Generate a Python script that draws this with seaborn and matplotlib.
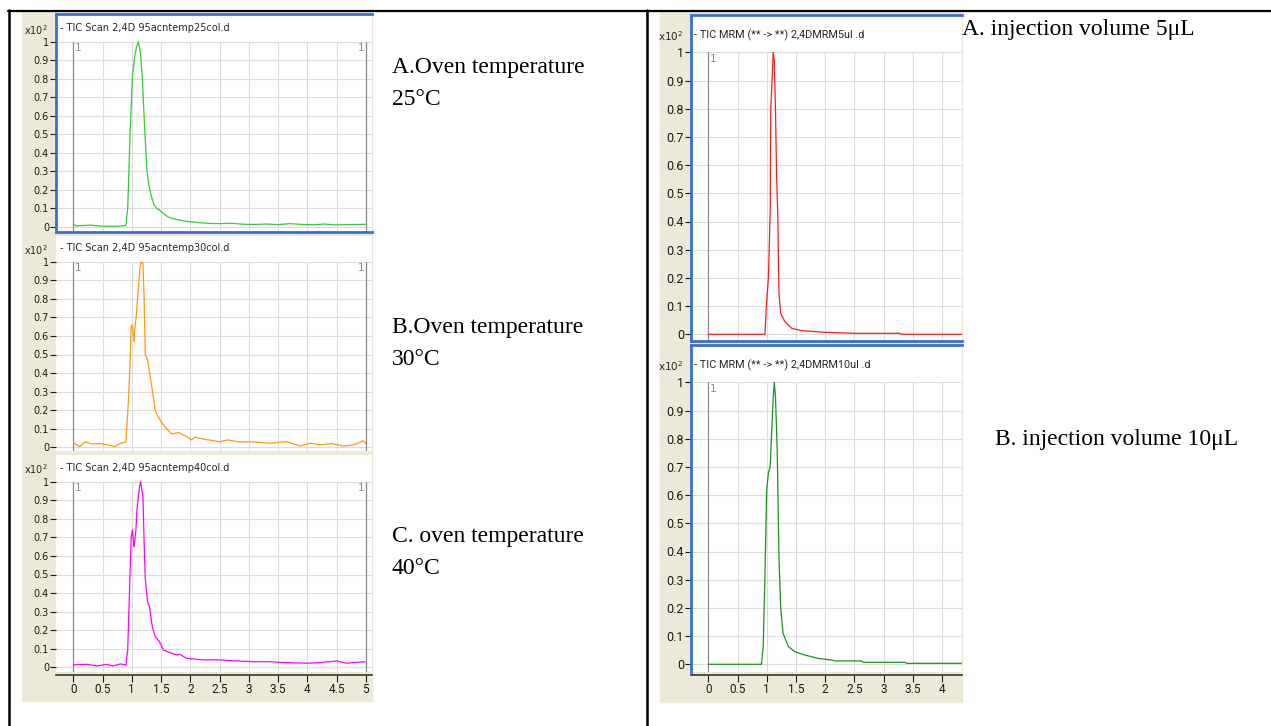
import numpy as np
import matplotlib
matplotlib.use("Agg")
import matplotlib.pyplot as plt
from matplotlib.lines import Line2D
from matplotlib.patches import Rectangle
import seaborn as sns

# ---- data (time in min, intensity x10^2) ----
t_25 = [0, 0.05, 0.15, 0.3, 0.45, 0.55, 0.7, 0.85, 0.9, 0.93, 0.95, 0.97, 1.01, 1.05, 1.08,
        1.11, 1.13, 1.15, 1.18, 1.21, 1.23, 1.26, 1.29, 1.33, 1.38, 1.43, 1.5, 1.57, 1.65,
        1.75, 1.85, 1.95, 2.1, 2.3, 2.5, 2.7, 2.9, 3.1, 3.3, 3.5, 3.7, 3.9, 4.1, 4.3, 4.5,
        4.7, 4.9, 5.0]
i_25 = [0.016, 0.006, 0.008, 0.01, 0.005, 0.004, 0.004, 0.006, 0.01, 0.1, 0.3, 0.5, 0.81,
        0.92, 0.97, 1.0, 0.97, 0.93, 0.8, 0.6, 0.47, 0.3, 0.23, 0.17, 0.12, 0.1, 0.085,
        0.065, 0.05, 0.042, 0.035, 0.03, 0.025, 0.02, 0.018, 0.02, 0.015, 0.014, 0.016,
        0.013, 0.018, 0.014, 0.012, 0.016, 0.011, 0.013, 0.014, 0.015]

t_30 = [0, 0.03, 0.11, 0.2, 0.31, 0.46, 0.6, 0.71, 0.8, 0.9, 0.94, 0.97, 0.99, 1.01, 1.04,
        1.05, 1.08, 1.11, 1.14, 1.16, 1.19, 1.21, 1.23, 1.27, 1.34, 1.4, 1.44, 1.54, 1.68,
        1.8, 1.94, 2.02, 2.08, 2.25, 2.5, 2.65, 2.8, 3.08, 3.36, 3.65, 3.88, 4.05, 4.22,
        4.42, 4.62, 4.79, 4.96, 5.0]
i_30 = [0.03, 0.018, 0.004, 0.03, 0.018, 0.02, 0.013, 0.004, 0.02, 0.03, 0.24, 0.45, 0.65,
        0.66, 0.57, 0.63, 0.72, 0.85, 0.97, 1.0, 0.99, 0.81, 0.5, 0.47, 0.33, 0.2, 0.17,
        0.12, 0.072, 0.079, 0.057, 0.04, 0.054, 0.043, 0.03, 0.04, 0.03, 0.029, 0.022,
        0.03, 0.007, 0.022, 0.013, 0.02, 0.007, 0.013, 0.036, 0.02]

t_40 = [0, 0.23, 0.4, 0.57, 0.68, 0.8, 0.9, 0.93, 0.97, 0.99, 1.01, 1.03, 1.04, 1.07, 1.09,
        1.13, 1.15, 1.19, 1.21, 1.23, 1.27, 1.3, 1.35, 1.4, 1.47, 1.54, 1.65, 1.77, 1.82,
        1.94, 2.22, 2.5, 2.79, 3.08, 3.36, 3.65, 3.99, 4.22, 4.5, 4.67, 4.85, 4.99]
i_40 = [0.013, 0.016, 0.007, 0.016, 0.007, 0.018, 0.013, 0.093, 0.506, 0.7, 0.74, 0.68,
        0.65, 0.74, 0.86, 0.97, 1.0, 0.92, 0.68, 0.48, 0.35, 0.33, 0.22, 0.165, 0.14,
        0.093, 0.079, 0.066, 0.07, 0.048, 0.04, 0.04, 0.034, 0.03, 0.03, 0.025, 0.022,
        0.025, 0.034, 0.022, 0.027, 0.03]

t_5ul = [0, 0.97, 0.99, 1.03, 1.06, 1.07, 1.1, 1.11, 1.13, 1.15, 1.17, 1.19, 1.21, 1.24,
         1.31, 1.43, 1.6, 2.0, 2.51, 3.28, 3.31, 4.4]
i_5ul = [0, 0, 0.086, 0.204, 0.44, 0.8, 0.94, 1.0, 0.97, 0.8, 0.56, 0.42, 0.145, 0.074,
         0.045, 0.021, 0.013, 0.007, 0.0035, 0.0035, 0, 0]

t_10ul = [0, 0.91, 0.94, 0.97, 1.0, 1.03, 1.06, 1.08, 1.11, 1.13, 1.15, 1.18, 1.21, 1.24,
          1.28, 1.37, 1.48, 1.65, 1.88, 2.11, 2.17, 2.62, 2.65, 3.37, 3.39, 4.4]
i_10ul = [0, 0, 0.063, 0.32, 0.62, 0.68, 0.7, 0.8, 0.94, 1.0, 0.95, 0.76, 0.38, 0.2, 0.11,
          0.063, 0.045, 0.033, 0.021, 0.015, 0.012, 0.012, 0.007, 0.007, 0.0035, 0.0035]

left_titles = ["- TIC Scan 2,4D 95acntemp25col.d",
               "- TIC Scan 2,4D 95acntemp30col.d",
               "- TIC Scan 2,4D 95acntemp40col.d"]
right_titles = ["- TIC MRM (** -> **) 2,4DMRM5ul .d",
                "- TIC MRM (** -> **) 2,4DMRM10ul .d"]
left_captions = [("A.Oven temperature", "25°C"),
                 ("B.Oven temperature", "30°C"),
                 ("C. oven temperature", "40°C")]
right_captions = ["A. injection volume 5μL", "B. injection volume 10μL"]

# ---- layout (pixels of the 1271x726 picture) ----
W, H = 1271, 726
BEIGE = "#ece9d8"
BLUE = "#3a6fcc"
GRID = "#dcdcdc"

sns.set_style("white")
plt.rcParams['font.family'] = ['DejaVu Sans']

left_font = {"family": "DejaVu Sans", "size": 7, "title": 7}
right_font = {"family": "Roboto", "size": 9, "title": 7.8}
xtick_font = {"family": "Roboto", "size": 8.5}

fig = plt.figure(figsize=(W / 100, H / 100), dpi=100)


def fbox(x0, y0, x1, y1):
    return [x0 / W, 1 - y1 / H, (x1 - x0) / W, (y1 - y0) / H]


def fline(x0, y0, x1, y1, **kw):
    fig.add_artist(Line2D([x0 / W, x1 / W], [1 - y0 / H, 1 - y1 / H],
                          transform=fig.transFigure, **kw))


# table frame
fline(8, 10.5, W, 10.5, color="black", lw=1.6)
fline(8.5, 10, 8.5, H, color="black", lw=1.8)
fline(647, 10, 647, H, color="black", lw=1.8)

# screenshot backgrounds
for x0, y0, x1, y1 in [(22, 12, 372, 701), (660, 12, 962, 702)]:
    fig.add_artist(Rectangle((x0 / W, 1 - y1 / H), (x1 - x0) / W, (y1 - y0) / H,
                             transform=fig.transFigure, color=BEIGE, zorder=0))


def panel(box, xcal, ycal, t, v, color, title, title_dy, xmax, show_x, blue,
          font, right_marker):
    x0, y0, x1, y1 = box
    ax = fig.add_axes(fbox(*box))
    ax.set_facecolor("white")
    xlim = ((x0 - xcal[0]) / xcal[1], (x1 - xcal[0]) / xcal[1])
    ylim = ((ycal[0] - y1) / ycal[1], (ycal[0] - y0) / ycal[1])

    # grid
    for yy in np.arange(0, 1.01, 0.1):
        ax.axhline(yy, color=GRID, lw=0.8, zorder=0)
    for xx in np.arange(0.5, xmax + 0.6, 0.5):
        ax.plot([xx, xx], [-0.03, 1.0], color=GRID, lw=0.8, zorder=0)
    ax.plot([0, 0], [-0.03, 1.0], color="#8a8a8a", lw=0.9, zorder=1)
    ax.text(0.03, 0.995, "1", color="#8a8a8a", fontsize=7.5, ha="left", va="top")
    if right_marker:
        ax.plot([5, 5], [-0.03, 1.0], color="#8a8a8a", lw=0.9, zorder=1)
        ax.text(4.97, 0.995, "1", color="#8a8a8a", fontsize=7.5, ha="right", va="top")

    sns.lineplot(x=t, y=v, ax=ax, color=color, lw=0.9, estimator=None, zorder=3)

    yt = np.arange(0, 1.01, 0.1)
    ax.set_yticks(yt)
    ax.set_yticklabels([f"{y:g}" for y in yt])
    ax.tick_params(axis="y", left=True, direction="out", length=4, width=0.8, pad=1,
                   colors="#1a1a1a", labelsize=font["size"], labelfontfamily=font["family"])
    if show_x:
        xt = np.arange(0, xmax + 0.01, 0.5)
        ax.set_xticks(xt)
        ax.set_xticklabels([f"{x:g}" for x in xt])
        ax.tick_params(axis="x", bottom=True, direction="out", length=5, width=0.8, pad=1,
                       colors="#1a1a1a", labelsize=xtick_font["size"],
                       labelfontfamily=xtick_font["family"])
        ax.spines["bottom"].set_position(("outward", 2))
        ax.spines["bottom"].set_color("#333333")
        ax.spines["bottom"].set_linewidth(1.2)
    else:
        ax.set_xticks([])
        ax.spines["bottom"].set_visible(False)
    ax.set_xlim(*xlim)
    ax.set_ylim(*ylim)
    ax.set_xlabel("")
    ax.set_ylabel("")

    for s in ["top", "left", "right"]:
        ax.spines[s].set_visible(False)
    if blue:
        for s in ["top", "left"]:
            ax.spines[s].set_visible(True)
            ax.spines[s].set_color(BLUE)
            ax.spines[s].set_linewidth(2)
        if not show_x:
            ax.spines["bottom"].set_visible(True)
            ax.spines["bottom"].set_color(BLUE)
            ax.spines["bottom"].set_linewidth(2)

    ax.text(0.012, 1 - title_dy / (y1 - y0), title, transform=ax.transAxes,
            va="center", ha="left", family=font["family"], fontsize=font["title"])
    return ax


left_x = (73.3, 58.5)
panel((56, 14, 372, 232), left_x, (227.0, 185.3), t_25, i_25, "#33cc33",
      left_titles[0], 14, 5.0, False, True, left_font, True)
panel((56, 236, 372, 451), left_x, (447.3, 185.6), t_30, i_30, "#ff9910",
      left_titles[1], 12, 5.0, False, False, left_font, True)
panel((56, 455, 372, 672), left_x, (667.3, 185.6), t_40, i_40, "#ff00ff",
      left_titles[2], 13, 5.0, True, False, left_font, True)

right_x = (708.3, 58.4)
panel((691, 15, 962, 341), right_x, (334.3, 282.0), t_5ul, i_5ul, "#ff1a1a",
      right_titles[0], 20, 4.0, False, True, right_font, False)
panel((691, 345, 962, 672), right_x, (664.3, 282.0), t_10ul, i_10ul, "#1f901f",
      right_titles[1], 20, 4.0, True, True, right_font, False)

# x10^2 scale labels
for x, y in [(24, 30), (24, 250), (24, 469)]:
    fig.text(x / W, 1 - y / H, r"x10$^{2}$", fontsize=7, va="center", ha="left")
for x, y in [(658, 36), (658, 366)]:
    fig.text(x / W, 1 - y / H, r"x10$^{2}$", fontsize=7.5, va="center", ha="left")

# captions
serif = {"family": "Liberation Serif", "fontsize": 17, "color": "black"}
for (l1, l2), yb in zip(left_captions, [73, 333, 542]):
    fig.text(392 / W, 1 - yb / H, l1, va="baseline", ha="left", **serif)
    fig.text(392 / W, 1 - (yb + 32) / H, l2, va="baseline", ha="left", **serif)
fig.text(962 / W, 1 - 35 / H, right_captions[0], va="baseline", ha="left", **serif)
fig.text(995 / W, 1 - 445 / H, right_captions[1], va="baseline", ha="left", **serif)

fig.savefig("out.png", dpi=100)
